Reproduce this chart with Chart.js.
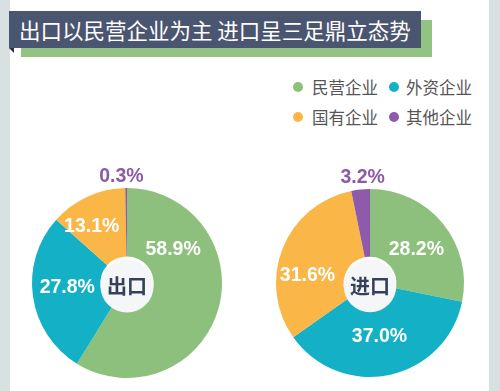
<!DOCTYPE html>
<html>
<head>
<meta charset="utf-8">
<script src="https://cdn.jsdelivr.net/npm/chart.js@4.4.0/dist/chart.umd.min.js"></script>
<style>
  html, body { margin: 0; padding: 0; }
  body {
    width: 500px; height: 391px; position: relative; overflow: hidden;
    background: #ffffff;
    font-family: "Noto Sans CJK SC", "Noto Sans", sans-serif;
  }
  .strip { position: absolute; top: 0; bottom: 0; background: #d9e0e1; }
  #stripL { left: 0; width: 10px; }
  #stripR { left: 489px; width: 11px; }
  #titleGreen { position: absolute; left: 21px; top: 20px; width: 411px; height: 37px; background: #93c383; }
  #titleBar {
    position: absolute; left: 9px; top: 11px; width: 412px; height: 37px;
    background: #4a5570; color: #fff; font-size: 21.5px; line-height: 37px;
    padding-left: 10px; box-sizing: border-box; white-space: pre;
  }
  #fold {
    position: absolute; left: 9px; top: 48px; width: 0; height: 0;
    border-top: 5px solid #2c3346; border-left: 5px solid transparent;
  }
  #legend { position: absolute; left: 0; top: 0; }
  .item { position: absolute; font-size: 16.5px; color: #555; line-height: 20px; white-space: nowrap; }
  .dot { position: absolute; width: 10px; height: 10px; border-radius: 50%; top: 5px; }
  .chartBox { position: absolute; }
</style>
</head>
<body>
<div class="strip" id="stripL"></div>
<div class="strip" id="stripR"></div>
<div id="titleGreen"></div>
<div id="titleBar">出口以民营企业为主 进口呈三足鼎立态势</div>
<div id="fold"></div>
<div id="legend"></div>
<div class="chartBox" style="left:0px;top:160px;width:254px;height:231px"><canvas id="exportChart"></canvas></div>
<div class="chartBox" style="left:250px;top:160px;width:250px;height:231px"><canvas id="importChart"></canvas></div>

<script>
// categories and values (percent)
const categories = ['民营企业', '外资企业', '国有企业', '其他企业'];
const exportValues = [58.9, 27.8, 13.1, 0.3];
const importValues = [28.2, 37.0, 31.6, 3.2];
const chartTitles = ['出口', '进口'];

const colors = ['#8dc07c', '#14b1c6', '#fbb648', '#8e5aaa'];

// label placement: [angle from 12 o'clock in degrees, fraction of outer radius]
const exportLabelPos = [[54, 0.6], [266, 0.63], [328, 0.7], [357, 1.12]];
const importLabelPos = [[54, 0.61], [170, 0.58], [277, 0.67], [356, 1.12]];

// legend, 2 x 2 grid
const legendSlots = [[298, 87], [394, 87], [298, 117], [394, 117]];
const legendEl = document.getElementById('legend');
categories.forEach((name, i) => {
    const [cx, cy] = legendSlots[i];
    const item = document.createElement('div');
    item.className = 'item';
    item.style.left = (cx - 5) + 'px';
    item.style.top = (cy - 10) + 'px';
    item.innerHTML = `<span class="dot" style="left:0;background:${colors[i]}"></span>` +
        `<span style="margin-left:${i % 2 === 0 ? 19 : 17}px">${name}</span>`;
    legendEl.appendChild(item);
});

const pieLabels = {
    id: 'pieLabels',
    afterDatasetsDraw(chart, args, opts) {
        const ctx = chart.ctx;
        const arcs = chart.getDatasetMeta(0).data;
        const values = chart.data.datasets[0].data;
        const cx = arcs[0].x, cy = arcs[0].y, R = arcs[0].outerRadius;
        ctx.save();
        ctx.textAlign = 'center';
        ctx.textBaseline = 'middle';
        ctx.font = 'bold 19.5px "Liberation Sans", Arial, sans-serif';
        values.forEach((v, i) => {
            const [deg, f] = opts.positions[i];
            const a = deg * Math.PI / 180;
            const x = cx + Math.sin(a) * R * f;
            const y = cy - Math.cos(a) * R * f;
            ctx.fillStyle = f > 1 ? '#8a5ba8' : '#ffffff';
            ctx.fillText(v.toFixed(1) + '%', x, y);
        });
        // centre caption
        ctx.fillStyle = '#f4f6f7';
        ctx.beginPath();
        ctx.arc(cx, cy + 3, arcs[0].innerRadius, 0, Math.PI * 2);
        ctx.fill();
        ctx.fillStyle = '#36405a';
        ctx.font = 'bold 20px "Noto Sans CJK SC", sans-serif';
        ctx.fillText(opts.title, cx, cy + 3);
        ctx.restore();
    }
};

function makePie(id, values, positions, title, padding) {
    return new Chart(document.getElementById(id), {
        type: 'doughnut',
        data: {
            labels: categories,
            datasets: [{
                data: values,
                backgroundColor: colors,
                borderWidth: 0
            }]
        },
        options: {
            responsive: true,
            maintainAspectRatio: false,
            animation: false,
            cutout: '28%',
            layout: { padding: padding },
            plugins: {
                legend: { display: false },
                tooltip: { enabled: false },
                pieLabels: { positions: positions, title: title }
            }
        },
        plugins: [pieLabels]
    });
}

makePie('exportChart', exportValues, exportLabelPos, chartTitles[0], { left: 32, right: 32, top: 28, bottom: 13 });
makePie('importChart', importValues, importLabelPos, chartTitles[1], { left: 26, right: 36, top: 29, bottom: 14 });
</script>
</body>
</html>
